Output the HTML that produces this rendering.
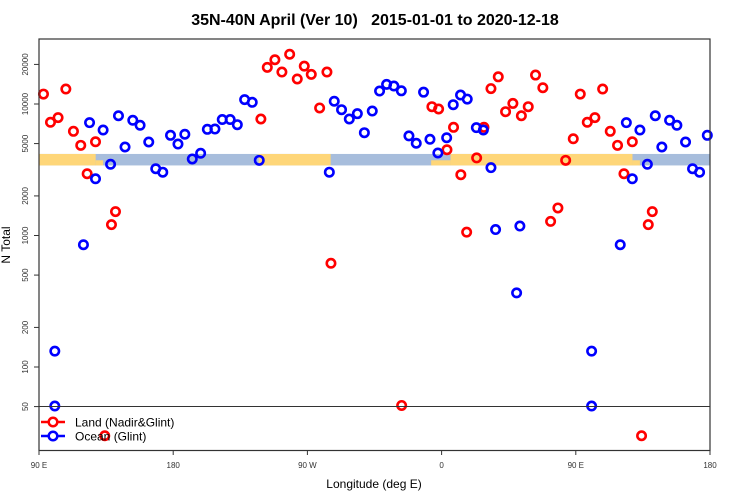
<!DOCTYPE html>
<html><head><meta charset="utf-8"><style>
body{margin:0;background:#fff;}
svg{display:block;font-family:"Liberation Sans",sans-serif;}
</style></head><body>
<svg id="chart" width="750" height="500" viewBox="0 0 750 500">
<text x="375" y="25" text-anchor="middle" font-size="16" font-weight="bold" style="white-space:pre">35N-40N April (Ver 10)   2015-01-01 to 2020-12-18</text>
<g id="band"></g>
<g id="ptsL"></g>
<g id="ptsO"></g>
<line x1="39" x2="710" y1="406.5" y2="406.5" stroke="#333" stroke-width="1"/>
<rect x="39" y="39" width="671" height="411.5" fill="none" stroke="#333" stroke-width="1.2"/>
<g id="yax"></g>
<g id="xax"></g>
<text transform="translate(10,245) rotate(-90)" text-anchor="middle" font-size="12">N Total</text>
<text x="374" y="488" text-anchor="middle" font-size="12">Longitude (deg E)</text>
<g>
 <g>
  <line x1="41" x2="65" y1="422" y2="422" stroke="#f00" stroke-width="2.5"/>
  <circle cx="53" cy="422" r="4.3" fill="#fff" stroke="#f00" stroke-width="2.5"/>
  <text x="75" y="426.5" font-size="12">Land (Nadir&amp;Glint)</text>
 </g>
 <g>
  <line x1="41" x2="65" y1="436" y2="436" stroke="#00f" stroke-width="2.5"/>
  <circle cx="53" cy="436" r="4.3" fill="#fff" stroke="#00f" stroke-width="2.5"/>
  <text x="75" y="440.5" font-size="12">Ocean (Glint)</text>
 </g>
</g>
</svg>
<script>
const yTicks=[50,100,200,500,1000,2000,5000,10000,20000];
const xTickU=[90,180,270,360,450,540];
const xTickLabels=["90 E","180","90 W","0","90 E","180"];
const landLon=[-121.2,-116.9,-111.8,-101.9,-107.1,-96.8,-92.1,-87.4,-76.9,-81.8,-74.2,-26.8,-6.5,-2.0,3.6,8.0,12.9,16.8,23.5,28.4,33.1,38.0,42.9,47.8,53.5,58.1,63.0,67.9,73.1,78.0,83.2,88.3,93.0,97.7,102.8,108.0,113.1,118.0,122.3,127.9,138.6,141.3,134.1];
const landN=[7690,19000,21700,23900,17500,15500,19400,16800,17500,9330,615,51,9540,9160,4490,6650,2900,1060,3890,6650,13100,16100,8740,10100,8140,9540,16600,13300,1280,1620,3730,5440,11900,7260,7880,13000,6200,4850,2950,5160,1210,1520,30];
const oceanLon=[-147.1,-141.8,-137.0,-132.1,-127.0,-122.3,-75.3,-72.0,-67.1,-61.9,-56.5,-51.8,-46.5,-41.6,-36.9,-32.0,-27.0,-21.9,-17.0,-12.1,-7.8,-2.5,3.4,7.8,12.7,17.2,23.3,28.0,33.1,36.2,50.3,52.5,100.6,100.6,119.8,123.9,127.9,133.0,138.0,143.3,147.7,152.9,157.8,163.6,168.3,173.0,178.2,-176.8,-172.2,-167.2,-161.6,-157.1,-152.0];
const oceanN=[7620,7620,6960,10800,10300,3730,3030,10500,9050,7690,8440,6050,8840,12550,14100,13700,12600,5720,5030,12300,5390,4240,5540,9880,11700,10900,6610,6340,3280,1110,366,1180,132,50.5,851,7210,2700,6340,3480,8140,4710,7520,6890,5140,3220,3030,5780,4960,5890,3820,4220,6420,6450];
const bandLow=3410, bandHigh=4170;
const landBandLon=[[-122.7,-74.4],[6,128]];
const landBandPartial=[[-7,6],[128,133]];

const NS="http://www.w3.org/2000/svg";
const X0=39,X1=710,U0=90,U1=540;
function xU(u){return X0+(u-U0)*(X1-X0)/(U1-U0);}
function yV(v){return 104-(Math.log10(v)-4)*131.5;}
function uList(lon){const r=[];const u=lon+360;if(u>=U0&&u<=U1)r.push(u);if(lon>=U0&&lon<=U1)r.push(lon);return r;}
function mk(tag,at,p){const e=document.createElementNS(NS,tag);for(const k in at)e.setAttribute(k,at[k]);p.appendChild(e);return e;}

const band=document.getElementById('band');
let b=mk('rect',{x:X0,y:yV(bandHigh),width:X1-X0,height:yV(bandLow)-yV(bandHigh),fill:'#A7BDDC'},band);


function landSeg(a,c,frac){for(const sh of [0,360]){const lo=Math.max(U0,a+sh),hi=Math.min(U1,c+sh);if(hi>lo){const yt=yV(bandHigh),yb=yV(bandLow);const h=(yb-yt)*frac;
 const r=mk('rect',{x:xU(lo),y:yb-h,width:xU(hi)-xU(lo),height:h,fill:'#FED679'},band);
 
 }}}
landBandLon.forEach(s=>landSeg(s[0],s[1],1));
landBandPartial.forEach(s=>landSeg(s[0],s[1],0.45));

function drawPts(lons,vals,col,g,name){lons.forEach((lon,i)=>{uList(lon).forEach(u=>{const c=mk('circle',{cx:xU(u),cy:yV(vals[i]),r:4.2,fill:'none',stroke:col,'stroke-width':2.6},g);
 
 });});}
drawPts(landLon,landN,'#f00',document.getElementById('ptsL'),'land-point');
drawPts(oceanLon,oceanN,'#00f',document.getElementById('ptsO'),'ocean-point');

const ya=document.getElementById('yax');
yTicks.forEach(t=>{const y=yV(t);mk('line',{x1:34,x2:39,y1:y,y2:y,stroke:'#333'},ya);
 const tx=mk('text',{transform:`translate(28,${y}) rotate(-90)`,'text-anchor':'middle','font-size':8,fill:'#333'},ya);tx.textContent=t;
 
 });
const xa=document.getElementById('xax');
xTickU.forEach((u,i)=>{const x=xU(u);mk('line',{x1:x,x2:x,y1:450.5,y2:455,stroke:'#333'},xa);
 const tx=mk('text',{x:x,y:468,'text-anchor':'middle','font-size':8,fill:'#333'},xa);tx.textContent=xTickLabels[i];
 
 });
</script>
</body></html>
